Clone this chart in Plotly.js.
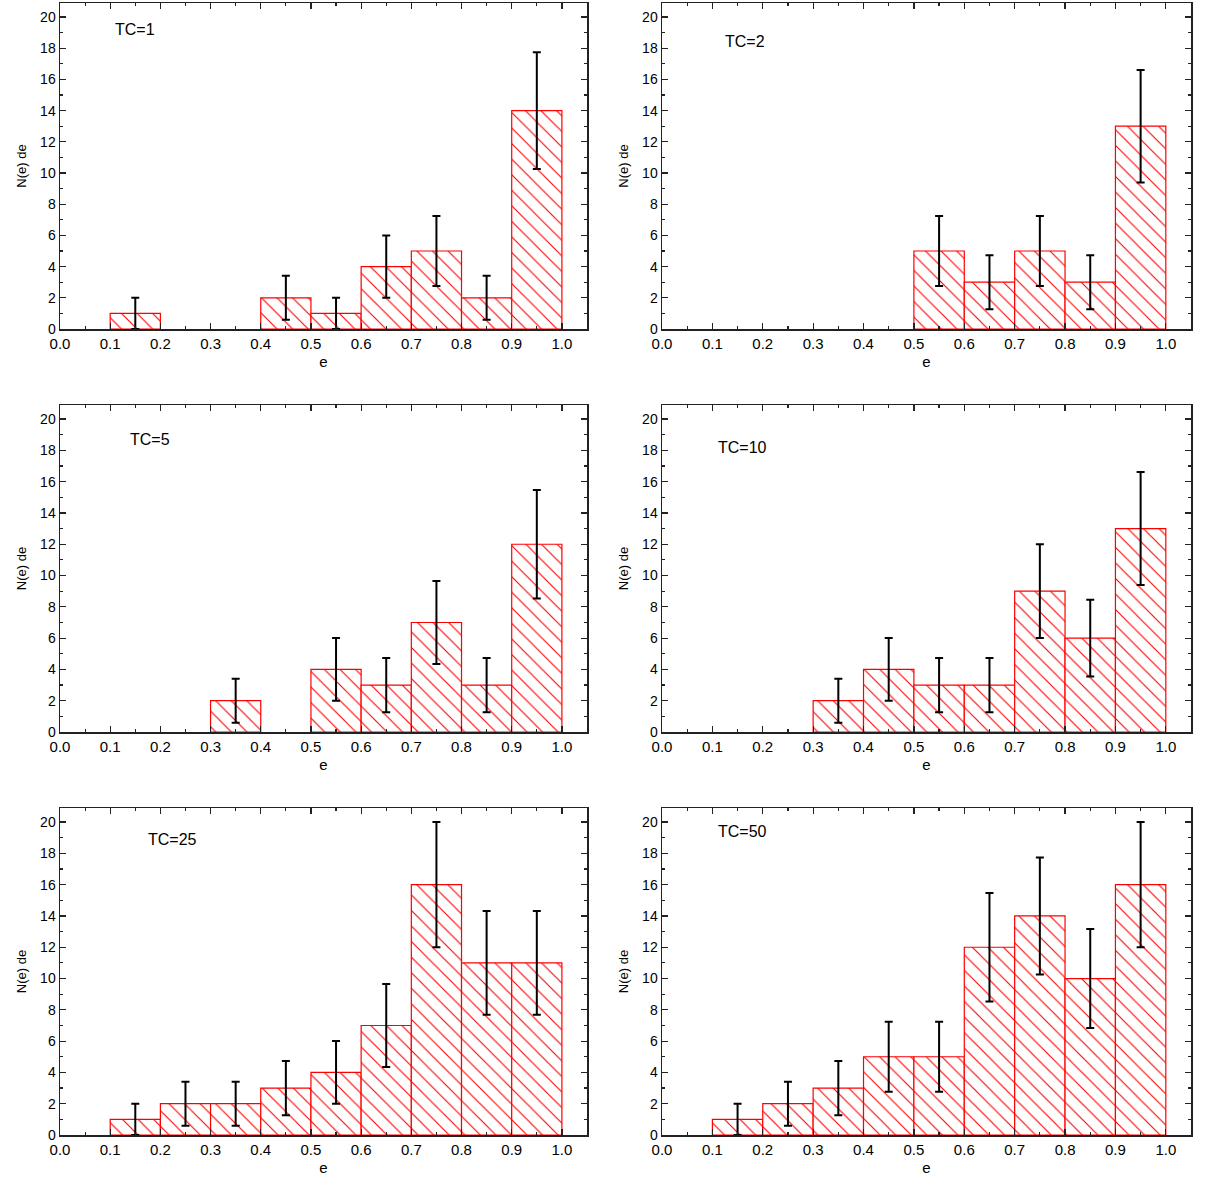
<!DOCTYPE html>
<html>
<head>
<meta charset="utf-8">
<script src="https://cdn.plot.ly/plotly-3.0.1.min.js"></script>
<style>
  html, body { margin: 0; padding: 0; background: #ffffff; }
  #chart { width: 1207px; height: 1178px; }
</style>
</head>
<body>
<div id="chart"></div>
<script>
// ---- Data (bin centres of e, counts N(e) de, error bar half-lengths) ----
const panelLabels = ["TC=1", "TC=2", "TC=5", "TC=10", "TC=25", "TC=50"];

const eTC1 = [0.15, 0.45, 0.55, 0.65, 0.75, 0.85, 0.95];
const nTC1 = [1, 2, 1, 4, 5, 2, 14];
const errTC1 = [1, 1.41, 1, 2, 2.24, 1.41, 3.74];

const eTC2 = [0.55, 0.65, 0.75, 0.85, 0.95];
const nTC2 = [5, 3, 5, 3, 13];
const errTC2 = [2.24, 1.73, 2.24, 1.73, 3.61];

const eTC5 = [0.35, 0.55, 0.65, 0.75, 0.85, 0.95];
const nTC5 = [2, 4, 3, 7, 3, 12];
const errTC5 = [1.41, 2, 1.73, 2.65, 1.73, 3.46];

const eTC10 = [0.35, 0.45, 0.55, 0.65, 0.75, 0.85, 0.95];
const nTC10 = [2, 4, 3, 3, 9, 6, 13];
const errTC10 = [1.41, 2, 1.73, 1.73, 3, 2.45, 3.61];

const eTC25 = [0.15, 0.25, 0.35, 0.45, 0.55, 0.65, 0.75, 0.85, 0.95];
const nTC25 = [1, 2, 2, 3, 4, 7, 16, 11, 11];
const errTC25 = [1, 1.41, 1.41, 1.73, 2, 2.65, 4, 3.32, 3.32];

const eTC50 = [0.15, 0.25, 0.35, 0.45, 0.55, 0.65, 0.75, 0.85, 0.95];
const nTC50 = [1, 2, 3, 5, 5, 12, 14, 10, 16];
const errTC50 = [1, 1.41, 1.73, 2.24, 2.24, 3.46, 3.74, 3.16, 4];

const xTickVals = [0, 0.1, 0.2, 0.3, 0.4, 0.5, 0.6, 0.7, 0.8, 0.9, 1.0];
const xTickText = ["0.0", "0.1", "0.2", "0.3", "0.4", "0.5", "0.6", "0.7", "0.8", "0.9", "1.0"];
const yTickVals = [0, 2, 4, 6, 8, 10, 12, 14, 16, 18, 20];

const binWidth = 0.1;

// label positions (data coords) for the TC annotations
const labelX = [0.15, 0.165, 0.18, 0.16, 0.225, 0.16];
const labelY = [19.2, 18.4, 18.7, 18.2, 18.9, 19.4];

// ---- Build ----
const series = [
  [eTC1, nTC1, errTC1],
  [eTC2, nTC2, errTC2],
  [eTC5, nTC5, errTC5],
  [eTC10, nTC10, errTC10],
  [eTC25, nTC25, errTC25],
  [eTC50, nTC50, errTC50]
];

const W = 1207, H = 1178;
const colPx = [[60, 587], [662, 1191]];
const rowPx = [[3, 329], [405, 732], [808, 1135]];

const FONT = "Liberation Sans, Arial, Helvetica, sans-serif";
const data = [];
const layout = {
  width: W, height: H,
  margin: {l: 0, r: 0, t: 0, b: 0},
  paper_bgcolor: "#ffffff",
  plot_bgcolor: "#ffffff",
  showlegend: false,
  bargap: 0,
  font: {family: FONT, color: "#000000", size: 14},
  annotations: []
};

series.forEach((s, i) => {
  const idx = i + 1;
  const xa = "x" + (idx === 1 ? "" : idx);
  const ya = "y" + (idx === 1 ? "" : idx);
  const col = i % 2, row = Math.floor(i / 2);
  data.push({
    type: "bar",
    x: s[0], y: s[1],
    width: binWidth,
    xaxis: xa, yaxis: ya,
    marker: {
      color: "#ffffff",
      line: {color: "#ff0000", width: 1.2},
      pattern: {shape: "\\", fgcolor: "#ff0000", bgcolor: "#ffffff", size: 11, solidity: 0.1, fillmode: "replace"}
    },
    error_y: {type: "data", array: s[2], visible: true, color: "#000000", thickness: 2, width: 4},
    hoverinfo: "x+y"
  });
  const xDom = [colPx[col][0] / W, colPx[col][1] / W];
  const yDom = [1 - rowPx[row][1] / H, 1 - rowPx[row][0] / H];
  const axLine = {showline: true, linecolor: "#222222", linewidth: 1.5, mirror: "ticks",
                  ticks: "inside", ticklen: 6, tickwidth: 1.2, tickcolor: "#222222",
                  showgrid: false, zeroline: false};
  layout["xaxis" + (idx === 1 ? "" : idx)] = Object.assign({}, axLine, {
    domain: xDom, anchor: ya, range: [0, 1.05],
    tickvals: xTickVals, ticktext: xTickText,
    tickfont: {family: FONT, size: 15, color: "#000"},
    ticklabelstandoff: 0,
    minor: {ticks: "inside", ticklen: 3, tickwidth: 1.2, tickcolor: "#222222", dtick: 0.05, tick0: 0},
    title: {text: "e", font: {family: FONT, size: 15, color: "#000"}, standoff: 6}
  });
  layout["yaxis" + (idx === 1 ? "" : idx)] = Object.assign({}, axLine, {
    domain: yDom, anchor: xa, range: [0, 20.9],
    tickvals: yTickVals,
    tickfont: {family: FONT, size: 14, color: "#000"},
    ticklabelstandoff: 0,
    minor: {ticks: "inside", ticklen: 3, tickwidth: 1.2, tickcolor: "#222222", dtick: 1, tick0: 0},
    title: {text: "N(e) de", font: {family: FONT, size: 13, color: "#000"}, standoff: 10}
  });
  layout.annotations.push({
    xref: xa, yref: ya, x: labelX[i], y: labelY[i],
    text: panelLabels[i], showarrow: false,
    font: {family: FONT, size: 16, color: "#000"},
    xanchor: "center", yanchor: "middle"
  });
});

Plotly.newPlot("chart", data, layout, {displayModeBar: false, staticPlot: true});
</script>
</body>
</html>
